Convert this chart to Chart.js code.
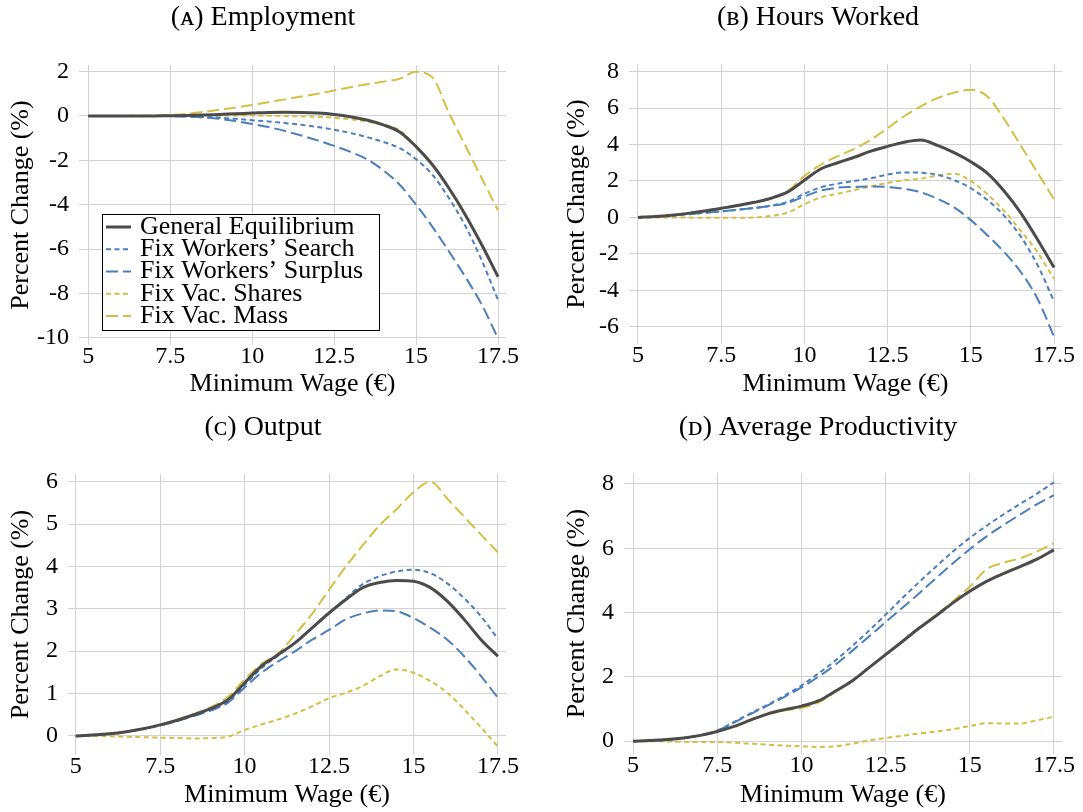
<!DOCTYPE html>
<html>
<head>
<title>Minimum Wage Decomposition</title>
<script src="https://cdn.jsdelivr.net/npm/chart.js"></script>
<style>
  body { margin: 0; background: #fff; }
  .panel { position: absolute; }
</style>
</head>
<body>
<div class="panel" style="left:0px;top:0px"><canvas id="chartA" width="541" height="406"></canvas></div>
<div class="panel" style="left:541px;top:0px"><canvas id="chartB" width="542" height="406"></canvas></div>
<div class="panel" style="left:0px;top:406px"><canvas id="chartC" width="541" height="406"></canvas></div>
<div class="panel" style="left:541px;top:406px"><canvas id="chartD" width="542" height="406"></canvas></div>

<script>
// minimum wage grid (euros)
const wages = [5, 5.5, 6, 6.5, 7, 7.5, 8, 8.5, 9, 9.5, 10, 10.5, 11, 11.5, 12, 12.5, 13, 13.5, 14, 14.5, 15, 15.5, 16, 16.5, 17, 17.5];
const xTicks = [5, 7.5, 10, 12.5, 15, 17.5];
const seriesNames = ['General Equilibrium', 'Fix Workers\u2019 Search', 'Fix Workers\u2019 Surplus', 'Fix Vac. Shares', 'Fix Vac. Mass'];

// (a) employment, percent change
const employmentGE      = [0, 0, 0, 0, 0, 0.01, 0.02, 0.04, 0.07, 0.1, 0.13, 0.16, 0.17, 0.16, 0.13, 0.07, -0.03, -0.18, -0.4, -0.72, -1.38, -2.2, -3.25, -4.45, -5.8, -7.25];
const employmentSearch  = [0, 0, 0, 0, 0, 0, -0.02, -0.05, -0.08, -0.13, -0.19, -0.25, -0.32, -0.4, -0.5, -0.62, -0.77, -0.95, -1.17, -1.45, -1.95, -2.65, -3.7, -4.95, -6.5, -8.3];
const employmentSurplus = [0, 0, 0, 0, 0, 0, -0.03, -0.07, -0.13, -0.23, -0.36, -0.5, -0.68, -0.88, -1.1, -1.35, -1.62, -1.95, -2.45, -3.1, -4.0, -5.0, -6.1, -7.25, -8.5, -10.03];
const employmentShares  = [0, 0, 0, 0, 0, 0.01, 0.01, 0.02, 0.02, 0.02, 0.02, 0.01, 0, -0.02, -0.04, -0.08, -0.15, -0.25, -0.4, -0.65, -1.38, -2.2, -3.25, -4.45, -5.8, -7.25];
const employmentMass    = [0, 0, 0, 0.01, 0.02, 0.05, 0.1, 0.18, 0.28, 0.38, 0.5, 0.62, 0.75, 0.88, 1.0, 1.15, 1.3, 1.43, 1.55, 1.68, 1.99, 1.74, 0.15, -1.33, -2.8, -4.25];

// (b) hours worked
const hoursGE      = [0, 0.05, 0.12, 0.22, 0.35, 0.5, 0.65, 0.83, 1.05, 1.4, 2.04, 2.67, 3.0, 3.3, 3.64, 3.9, 4.13, 4.25, 3.95, 3.55, 3.05, 2.42, 1.45, 0.25, -1.2, -2.75];
const hoursSearch  = [0, 0.04, 0.1, 0.17, 0.25, 0.33, 0.42, 0.52, 0.65, 0.85, 1.3, 1.65, 1.85, 2.0, 2.15, 2.35, 2.47, 2.45, 2.33, 2.05, 1.6, 0.95, 0.1, -1.05, -2.6, -4.6];
const hoursSurplus = [0, 0.04, 0.1, 0.17, 0.25, 0.33, 0.42, 0.52, 0.63, 0.8, 1.15, 1.48, 1.63, 1.67, 1.7, 1.67, 1.56, 1.38, 1.02, 0.55, -0.15, -0.98, -1.9, -3.0, -4.45, -6.55];
const hoursShares  = [0, 0, 0, -0.01, -0.02, -0.02, -0.02, 0, 0.08, 0.27, 0.72, 1.1, 1.3, 1.5, 1.7, 1.9, 2.04, 2.13, 2.3, 2.4, 2.0, 1.27, 0.36, -0.73, -1.9, -3.38];
const hoursMass    = [0, 0.05, 0.12, 0.22, 0.35, 0.5, 0.65, 0.83, 1.05, 1.45, 2.27, 2.9, 3.36, 3.76, 4.27, 4.9, 5.55, 6.1, 6.55, 6.85, 7.0, 6.64, 5.4, 3.95, 2.47, 1.0];

// (c) output
const outputGE      = [0, 0.02, 0.05, 0.1, 0.17, 0.26, 0.37, 0.5, 0.65, 0.85, 1.25, 1.65, 1.92, 2.2, 2.55, 2.9, 3.22, 3.5, 3.62, 3.67, 3.65, 3.5, 3.18, 2.75, 2.27, 1.88];
const outputSearch  = [0, 0.02, 0.05, 0.1, 0.17, 0.25, 0.36, 0.49, 0.63, 0.82, 1.2, 1.6, 1.9, 2.2, 2.55, 2.9, 3.25, 3.58, 3.77, 3.88, 3.92, 3.84, 3.6, 3.25, 2.82, 2.29];
const outputSurplus = [0, 0.02, 0.05, 0.1, 0.17, 0.25, 0.35, 0.47, 0.6, 0.78, 1.14, 1.49, 1.76, 2.0, 2.27, 2.5, 2.75, 2.89, 2.96, 2.94, 2.78, 2.55, 2.27, 1.88, 1.41, 0.9];
const outputShares  = [0, 0, -0.01, -0.02, -0.03, -0.04, -0.05, -0.06, -0.05, -0.02, 0.14, 0.27, 0.39, 0.53, 0.7, 0.89, 1.02, 1.18, 1.41, 1.57, 1.49, 1.29, 1.02, 0.63, 0.2, -0.25];
const outputMass    = [0, 0.02, 0.05, 0.1, 0.17, 0.26, 0.38, 0.52, 0.68, 0.92, 1.33, 1.7, 1.95, 2.4, 2.88, 3.45, 4.0, 4.5, 4.97, 5.35, 5.75, 6.0, 5.6, 5.17, 4.75, 4.33];

// (d) average productivity
const prodGE      = [0, 0.02, 0.05, 0.1, 0.18, 0.3, 0.46, 0.66, 0.85, 0.98, 1.09, 1.25, 1.55, 1.87, 2.28, 2.69, 3.1, 3.52, 3.9, 4.3, 4.66, 4.97, 5.21, 5.43, 5.66, 5.95];
const prodSearch  = [0, 0.01, 0.04, 0.09, 0.18, 0.33, 0.6, 0.87, 1.13, 1.42, 1.73, 2.1, 2.5, 2.95, 3.43, 3.93, 4.45, 4.95, 5.43, 5.9, 6.32, 6.7, 7.05, 7.38, 7.7, 8.05];
const prodSurplus = [0, 0.01, 0.04, 0.09, 0.18, 0.32, 0.58, 0.85, 1.11, 1.38, 1.67, 2.0, 2.37, 2.8, 3.25, 3.7, 4.15, 4.6, 5.07, 5.53, 5.97, 6.37, 6.72, 7.05, 7.37, 7.65];
const prodShares  = [0, 0, -0.01, -0.02, -0.03, -0.03, -0.05, -0.08, -0.11, -0.14, -0.16, -0.18, -0.16, -0.08, 0.02, 0.1, 0.17, 0.24, 0.3, 0.37, 0.47, 0.56, 0.55, 0.55, 0.65, 0.76];
const prodMass    = [0, 0.02, 0.05, 0.1, 0.18, 0.3, 0.46, 0.66, 0.84, 0.95, 1.03, 1.2, 1.52, 1.86, 2.28, 2.69, 3.1, 3.53, 3.92, 4.35, 4.8, 5.35, 5.55, 5.69, 5.9, 6.16];

const yTicksA = [-10, -8, -6, -4, -2, 0, 2];
const yTicksB = [-6, -4, -2, 0, 2, 4, 6, 8];
const yTicksC = [0, 1, 2, 3, 4, 5, 6];
const yTicksD = [0, 2, 4, 6, 8];

// line styles, same order as seriesNames
const lineColors = ['#4b4b4b', '#4a7fbb', '#4a7fbb', '#d5be45', '#d5be45'];
const lineDashes = [[], [5, 3.5], [12, 5], [5, 3.5], [12, 5]];
const lineWidths = [3, 2, 2, 2, 2];

const FONT = '"Liberation Serif", "DejaVu Serif", serif';

// legend box drawn inside the plot area of panel (a)
const boxLegend = {
  id: 'boxLegend',
  afterDatasetsDraw(chart) {
    const { ctx, chartArea } = chart;
    const w = 277, h = 116, rowH = 22.25;
    const x0 = chartArea.left + 23;
    const y0 = chartArea.bottom - 15 - h;
    ctx.save();
    ctx.fillStyle = '#fff';
    ctx.fillRect(x0, y0, w, h);
    ctx.strokeStyle = '#000';
    ctx.lineWidth = 1;
    ctx.strokeRect(Math.round(x0) + 0.5, Math.round(y0) + 0.5, w, h);
    ctx.font = '26px ' + FONT;
    ctx.textBaseline = 'middle';
    chart.data.datasets.forEach((ds, i) => {
      const cy = y0 + 13 + i * rowH;
      ctx.strokeStyle = ds.borderColor;
      ctx.lineWidth = ds.borderWidth;
      ctx.setLineDash(ds.borderDash);
      ctx.beginPath();
      ctx.moveTo(x0 + 4, cy);
      ctx.lineTo(x0 + 29, cy);
      ctx.stroke();
      ctx.setLineDash([]);
      ctx.fillStyle = '#000';
      ctx.fillText(ds.label, x0 + 38, cy);
    });
    ctx.restore();
  }
};

const panels = [
  { id: 'chartA', title: '(\u1D00) Employment', series: [employmentGE, employmentSearch, employmentSurplus, employmentShares, employmentMass],
    yTicks: yTicksA, yMin: -10.33, yMax: 2.3, xMin: 4.716, xMax: 17.744,
    padL: 0, padR: 15, yAxisW: 79, rightGap: 20, xAxisH: 61, titlePad: { top: 4, bottom: 33 }, yTitlePad: 8, xTitlePad: 9, legend: true },
  { id: 'chartB', title: '(\u0299) Hours Worked', series: [hoursGE, hoursSearch, hoursSurplus, hoursShares, hoursMass],
    yTicks: yTicksB, yMin: -6.95, yMax: 8.42, xMin: 4.73, xMax: 17.74,
    padL: 12, padR: 0, yAxisW: 76, rightGap: 21, xAxisH: 62, titlePad: { top: 4, bottom: 32 }, yTitlePad: 11, xTitlePad: 9 },
  { id: 'chartC', title: '(\u1D04) Output', series: [outputGE, outputSearch, outputSurplus, outputShares, outputMass],
    yTicks: yTicksC, yMin: -0.45, yMax: 6.18, xMin: 4.77, xMax: 17.74,
    padL: 0, padR: 15, yAxisW: 68, rightGap: 20, xAxisH: 57, titlePad: { top: 8, bottom: 32 }, yTitlePad: 8, xTitlePad: 4 },
  { id: 'chartD', title: '(\u1D05) Average Productivity', series: [prodGE, prodSearch, prodSurplus, prodShares, prodMass],
    yTicks: yTicksD, yMin: -0.40, yMax: 8.34, xMin: 4.73, xMax: 17.74,
    padL: 12, padR: 0, yAxisW: 71, rightGap: 21, xAxisH: 58, titlePad: { top: 8, bottom: 31 }, yTitlePad: 11, xTitlePad: 4 }
];

panels.forEach(p => {
  const datasets = p.series.map((vals, i) => ({
    label: seriesNames[i],
    data: wages.map((x, k) => ({ x: x, y: vals[k] })),
    borderColor: lineColors[i],
    borderDash: lineDashes[i],
    borderWidth: lineWidths[i],
    pointRadius: 0,
    fill: false,
    cubicInterpolationMode: 'monotone'
  }));

  new Chart(document.getElementById(p.id), {
    type: 'line',
    data: { datasets: datasets },
    plugins: p.legend ? [boxLegend] : [],
    options: {
      responsive: false,
      animation: false,
      devicePixelRatio: 1,
      layout: { padding: { left: p.padL, right: p.padR, top: 0, bottom: 0 } },
      plugins: {
        legend: { display: false },
        tooltip: { enabled: false },
        title: {
          display: true,
          text: p.title,
          color: '#000',
          font: { family: FONT, size: 28, weight: 'normal', lineHeight: 1 },
          padding: p.titlePad
        }
      },
      scales: {
        x: {
          type: 'linear',
          min: p.xMin,
          max: p.xMax,
          afterBuildTicks: s => { s.ticks = xTicks.map(v => ({ value: v })); },
          afterFit: s => { s.height = p.xAxisH; },
          grid: { color: '#d2d2d2', lineWidth: 1, drawTicks: false },
          border: { display: false },
          ticks: {
            color: '#000', padding: 0, maxRotation: 0,
            font: { family: FONT, size: 24, lineHeight: 1 },
            callback: v => String(v)
          },
          title: {
            display: true, text: 'Minimum Wage (\u20AC)', color: '#000',
            font: { family: FONT, size: 26, lineHeight: 1 },
            padding: { top: 0, bottom: p.xTitlePad }
          }
        },
        y: {
          type: 'linear',
          position: 'left',
          min: p.yMin,
          max: p.yMax,
          afterBuildTicks: s => { s.ticks = p.yTicks.map(v => ({ value: v })); },
          afterFit: s => { s.width = p.yAxisW; },
          grid: { color: '#d2d2d2', lineWidth: 1, drawTicks: false },
          border: { display: false },
          ticks: {
            color: '#000', padding: 10,
            font: { family: FONT, size: 24, lineHeight: 1 },
            callback: v => String(v)
          },
          title: {
            display: true, text: 'Percent Change (%)', color: '#000',
            font: { family: FONT, size: 26, lineHeight: 1 },
            padding: { top: p.yTitlePad, bottom: 0 }
          }
        },
        gap: {
          type: 'linear',
          position: 'right',
          display: true,
          afterFit: s => { s.width = p.rightGap; },
          grid: { display: false, drawTicks: false },
          border: { display: false },
          ticks: { display: false }
        }
      }
    }
  });
});
</script>
</body>
</html>
